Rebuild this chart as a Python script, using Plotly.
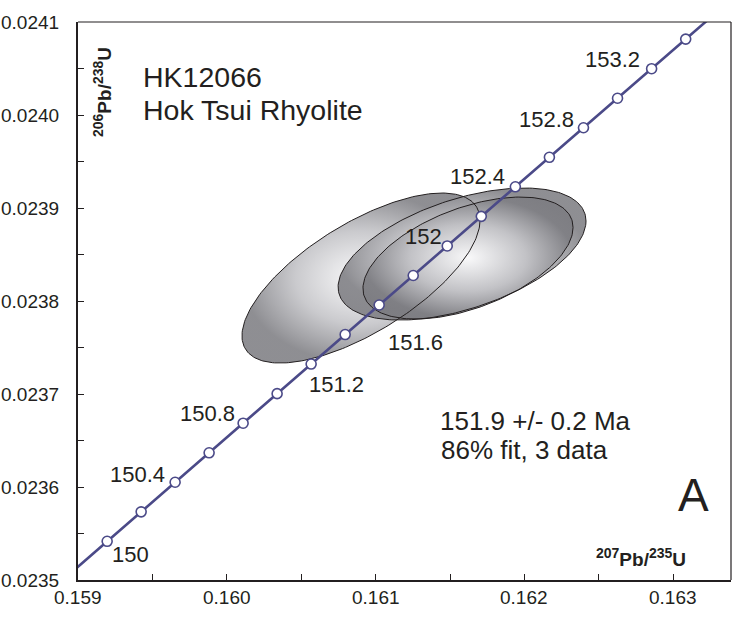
import numpy as np
import plotly.graph_objects as go

# ---------------- data ----------------
# Concordia tick ages (Ma) and their ratio coordinates
ages = [150.0, 150.2, 150.4, 150.6, 150.8, 151.0, 151.2, 151.4, 151.6,
        151.8, 152.0, 152.2, 152.4, 152.6, 152.8, 153.0, 153.2, 153.4]
conc_x = [0.1591960, 0.1594244, 0.1596527, 0.1598812, 0.1601097, 0.1603382,
          0.1605668, 0.1607954, 0.1610240, 0.1612528, 0.1614815, 0.1617103,
          0.1619392, 0.1621680, 0.1623970, 0.1626259, 0.1628550, 0.1630840]
conc_y = [0.0235416, 0.0235733, 0.0236051, 0.0236368, 0.0236686, 0.0237004,
          0.0237322, 0.0237639, 0.0237957, 0.0238274, 0.0238592, 0.0238910,
          0.0239228, 0.0239545, 0.0239863, 0.0240180, 0.0240498, 0.0240816]
# concordia continues beyond the plotted window (149.8 and 153.6 Ma)
conc_start = (0.1589677, 0.0235098)
conc_end = (0.1633131, 0.0241134)

label_ages = ["150", "150.4", "150.8", "151.2", "151.6", "152", "152.4", "152.8", "153.2"]

# Error ellipses (2 sigma): centre, half-extent in x and y, correlation
ell_cx = [0.160902, 0.161581, 0.161621]
ell_cy = [0.0238247, 0.0238505, 0.0238462]
ell_x2s = [0.000800, 0.000833, 0.000706]
ell_y2s = [0.0000914, 0.0000710, 0.0000656]
ell_rho = [0.68, 0.50, 0.50]

x_ticks = [0.159, 0.160, 0.161, 0.162, 0.163]
x_tick_labels = ["0.159", "0.160", "0.161", "0.162", "0.163"]
y_ticks = [0.0235, 0.0236, 0.0237, 0.0238, 0.0239, 0.0240, 0.0241]
y_tick_labels = ["0.0235", "0.0236", "0.0237", "0.0238", "0.0239", "0.0240", "0.0241"]

# ---------------- style ----------------
FONT = "Liberation Sans, Arial, Helvetica, sans-serif"
TXT = "#231f20"
CURVE = "#4b4a88"
W, H = 733, 624
L, R, T, B = 78, 2, 22, 44
label_offsets = {"150": (23, -13), "150.4": (-38, 8), "150.8": (-36, 10),
                 "151.2": (25, -20), "151.6": (36, -37), "152": (-24, 9),
                 "152.4": (-38, 10), "152.8": (-37, 8), "153.2": (-39, 9)}

pw = W - L - R
ph = H - T - B


def px(xp):
    return (xp - L) / pw


def py(yp):
    return (H - B - yp) / ph


fig = go.Figure()

theta = np.linspace(0, 2 * np.pi, 241)
outlines = []
for cx, cy, sx, sy, r in zip(ell_cx, ell_cy, ell_x2s, ell_y2s, ell_rho):
    ex = cx + sx * np.cos(theta)
    ey = cy + sy * (r * np.cos(theta) + np.sqrt(1 - r * r) * np.sin(theta))
    outlines.append((ex, ey))
    fig.add_trace(go.Scatter(
        x=ex, y=ey, mode="lines", fill="toself",
        line=dict(width=0, color="rgba(0,0,0,0)"),
        fillgradient=dict(type="radial", colorscale=[
            [0.0, "rgba(250,250,251,0.82)"],
            [0.55, "rgba(192,192,196,0.84)"],
            [1.0, "rgba(124,124,129,0.86)"]]),
        hoverinfo="skip", showlegend=False))

for ex, ey in outlines:
    fig.add_trace(go.Scatter(x=ex, y=ey, mode="lines",
                             line=dict(color=TXT, width=1),
                             hoverinfo="skip", showlegend=False))

line_x = [conc_start[0]] + conc_x + [conc_end[0]]
line_y = [conc_start[1]] + conc_y + [conc_end[1]]
fig.add_trace(go.Scatter(x=line_x, y=line_y, mode="lines",
                         line=dict(color=CURVE, width=2.6),
                         hoverinfo="skip", showlegend=False))
fig.add_trace(go.Scatter(x=conc_x, y=conc_y, mode="markers",
                         marker=dict(size=10, color="white",
                                     line=dict(color=CURVE, width=1.6)),
                         text=[f"{a:g}" for a in ages],
                         hoverinfo="text", showlegend=False))

annotations = []
age_str = [f"{a:g}" for a in ages]
for lab in label_ages:
    i = age_str.index(lab)
    dx, dy = label_offsets[lab]
    annotations.append(dict(x=conc_x[i], y=conc_y[i], xref="x", yref="y",
                            text=lab, xanchor="center",
                            yanchor="middle", xshift=dx, yshift=dy,
                            font=dict(size=22, color=TXT, family=FONT)))

# tick labels
for v, t in zip(y_ticks, y_tick_labels):
    annotations.append(dict(x=px(61), y=v, xref="paper", yref="y", text=t,
                            xanchor="right", yanchor="middle",
                            font=dict(size=19, color=TXT, family=FONT)))
for v, t in zip(x_ticks, x_tick_labels):
    annotations.append(dict(x=v, y=py(597), xref="x", yref="paper", text=t,
                            xanchor="center", yanchor="middle",
                            font=dict(size=19, color=TXT, family=FONT)))

SUP = '<sup><span style="font-size:14px">{}</span></sup>'
annotations += [
    dict(x=px(141), y=py(76.7), text="HK12066", xanchor="left", yanchor="middle",
         font=dict(size=28.5, color=TXT, family=FONT)),
    dict(x=px(141), y=py(110), text="Hok Tsui Rhyolite", xanchor="left", yanchor="middle",
         font=dict(size=28.5, color=TXT, family=FONT)),
    dict(x=px(438), y=py(420.5), text="151.9 +/- 0.2 Ma", xanchor="left", yanchor="middle",
         font=dict(size=26, color=TXT, family=FONT)),
    dict(x=px(439), y=py(450.4), text="86% fit, 3 data", xanchor="left", yanchor="middle",
         font=dict(size=26, color=TXT, family=FONT)),
    dict(x=px(693), y=py(495), text="A", xanchor="center", yanchor="middle",
         font=dict(size=46, color=TXT, family=FONT)),
    dict(x=px(641), y=py(557),
         text="<b>" + SUP.format("207") + "Pb/" + SUP.format("235") + "U</b>",
         xanchor="center", yanchor="middle",
         font=dict(size=19, color=TXT, family=FONT)),
    dict(x=px(103), y=py(92),
         text="<b>" + SUP.format("206") + "Pb/" + SUP.format("238") + "U</b>",
         textangle=-90, xanchor="center", yanchor="middle",
         font=dict(size=19, color=TXT, family=FONT)),
]
for a in annotations:
    a.setdefault("xref", "paper")
    a.setdefault("yref", "paper")
    a["showarrow"] = False

x_range = [0.159, 0.159 + (W - L - R) / 148800]
y_range = [0.0235, 0.0241]

fig.update_layout(
    width=W, height=H,
    margin=dict(l=L, r=R, t=T, b=B, pad=0),
    paper_bgcolor="white", plot_bgcolor="white",
    font=dict(family=FONT, color=TXT, size=19),
    annotations=annotations,
    shapes=[
        dict(type="line", xref="paper", yref="paper", x0=0, x1=1, y0=1, y1=1,
             line=dict(color=TXT, width=1.2)),
        dict(type="line", xref="paper", yref="paper", x0=1, x1=1, y0=0, y1=1,
             line=dict(color=TXT, width=1.2)),
    ],
    xaxis=dict(range=x_range, showgrid=False, zeroline=False,
               tickvals=x_ticks, showticklabels=False,
               ticks="inside", ticklen=6, tickwidth=1.2, tickcolor=TXT,
               showline=True, linecolor=TXT, linewidth=2,
               minor=dict(dtick=0.0005, tick0=0.159, ticks="inside", ticklen=6,
                          tickwidth=1.2, tickcolor=TXT, showgrid=False)),
    yaxis=dict(range=y_range, showgrid=False, zeroline=False,
               tickvals=y_ticks, showticklabels=False,
               ticks="inside", ticklen=6, tickwidth=1.2, tickcolor=TXT,
               showline=True, linecolor=TXT, linewidth=2,
               minor=dict(dtick=0.00005, tick0=0.0235, ticks="inside", ticklen=6,
                          tickwidth=1.2, tickcolor=TXT, showgrid=False)),
)

fig.write_html("out.html")
